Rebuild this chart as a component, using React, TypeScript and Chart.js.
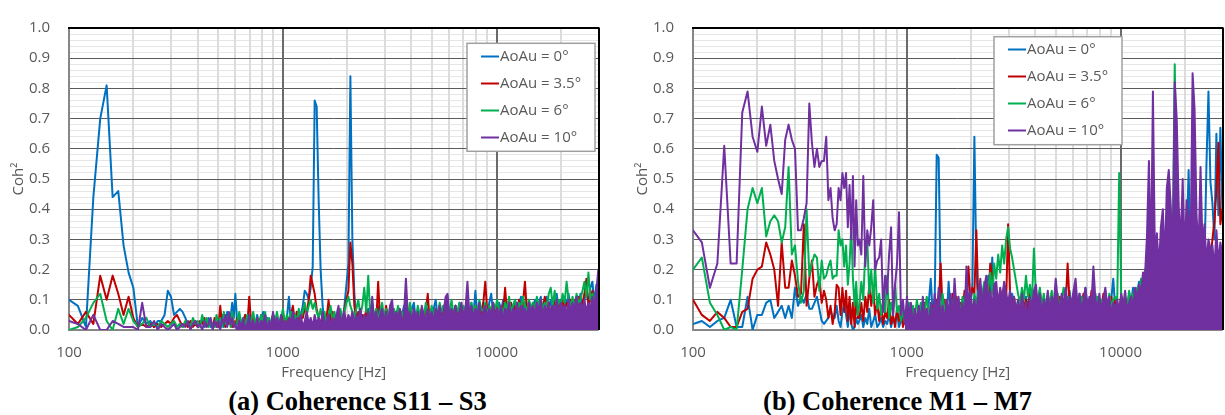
import React, { useEffect, useRef } from "react";
import { Chart, registerables } from "chart.js";

Chart.register(...registerables);

const FONT = '"Open Sans", "DejaVu Sans", sans-serif';
const TEXT = "#595959";

// frequency bins [Hz]
const FREQ_LO = [
  100, 110, 120, 130, 140, 150, 160, 170, 180, 190,
  200, 210, 220, 230, 240, 250, 260, 270, 280, 290,
  300, 310, 320, 330, 340, 350, 360, 370, 380, 390,
  400, 410, 420, 430, 440, 450, 460, 470, 480, 490,
  500, 510, 520, 530, 540, 550, 560, 570, 580, 590,
];
// log-spaced bins from 600 Hz to 30 kHz (184 bins)
const FREQ_HI = Array.from({ length: 184 }, (_, k) => 600 * Math.pow(10, k * 0.00928));

const X_GRID = [100, 200, 300, 400, 500, 600, 700, 800, 900, 1000, 2000, 3000, 4000, 5000, 6000, 7000, 8000, 9000, 10000, 20000, 30000];
const X_LABEL_VALUES = [100, 1000, 10000];
const X_LABELS = ["100", "1000", "10000"];
const Y_LABELS = ["0.0", "0.1", "0.2", "0.3", "0.4", "0.5", "0.6", "0.7", "0.8", "0.9", "1.0"];

const SERIES_NAMES = ["AoAu = 0°", "AoAu = 3.5°", "AoAu = 6°", "AoAu = 10°"];
const COLORS = ["#0070C0", "#C00000", "#00B050", "#7030A0"];

// ---------- Panel (a): Coherence S11 – S3 ----------
const A_BLUE_LO = [
  .10,.08,.01,.44,.70,.81,.44,.46,.28,.19,
  .14,.01,.04,.02,.03,.01,.03,.03,.05,.13,
  .11,.05,.06,.07,.06,.04,.02,.01,.02,.03,
  .01,.02,.03,.01,.02,.04,.01,.02,.03,.01,
  .03,.02,.05,.01,.03,.06,.02,.04,.09,.04,
];
const A_RED_LO = [
  .05,.02,.06,.02,.18,.10,.18,.12,.05,.11,
  .04,.01,.02,.01,.02,.01,.02,.01,.02,.03,
  .02,.04,.05,.03,.01,.02,.01,.03,.01,.02,
  .01,.03,.02,.04,.01,.02,.03,.01,.04,.02,
  .01,.08,.02,.05,.01,.03,.02,.04,.01,.03,
];
const A_GREEN_LO = [
  .00,.01,.04,.09,.12,.03,.00,.07,.02,.07,
  .03,.01,.02,.04,.01,.02,.01,.03,.02,.01,
  .02,.03,.01,.02,.01,.03,.02,.01,.04,.02,
  .03,.01,.05,.02,.04,.01,.03,.02,.01,.05,
  .02,.04,.01,.06,.02,.03,.05,.01,.06,.02,
];
const A_PURPLE_LO = [
  .03,.02,.00,.05,.00,.00,.03,.02,.01,.01,
  .01,.00,.09,.01,.01,.03,.00,.02,.01,.00,
  .01,.02,.00,.01,.02,.01,.03,.00,.02,.03,
  .01,.02,.00,.03,.01,.02,.04,.00,.03,.01,
  .03,.00,.04,.02,.05,.01,.06,.02,.04,.01,
];
const A_BLUE_HI = [
  .12,.02,.04,.01,.03,.05,.01,.03,.01,.04,
  .01,.05,.02,.03,.06,.01,.04,.02,.03,.05,
  .01,.04,.02,.03,.06,.01,.04,.11,.02,.05,
  .02,.06,.03,.05,.08,.13,.12,.10,.14,.21,
  .76,.74,.43,.20,.08,.02,.05,.01,.04,.06,
  .02,.05,.01,.06,.03,.08,.15,.22,.84,.30,
  .12,.04,.02,.06,.01,.05,.03,.07,.02,.06,
  .01,.05,.08,.02,.06,.03,.07,.02,.05,.01,
  .06,.03,.07,.02,.05,.08,.03,.06,.02,.07,
  .09,.03,.06,.02,.07,.04,.08,.03,.06,.02,
  .07,.10,.04,.07,.03,.08,.05,.09,.04,.07,
  .03,.08,.05,.09,.04,.07,.03,.08,.05,.09,
  .04,.13,.05,.08,.04,.09,.06,.05,.09,.12,
  .05,.08,.04,.09,.06,.10,.05,.08,.04,.09,
  .06,.10,.05,.08,.11,.06,.09,.05,.10,.07,
  .06,.10,.05,.09,.11,.06,.09,.11,.07,.10,
  .06,.09,.12,.07,.10,.06,.11,.08,.12,.07,
  .10,.06,.11,.08,.12,.07,.10,.13,.08,.14,
  .16,.09,.15,.12,
];
const A_RED_HI = [
  .02,.04,.01,.03,.02,.05,.01,.11,.02,.04,
  .01,.03,.02,.05,.01,.04,.02,.03,.01,.05,
  .02,.04,.01,.03,.05,.02,.04,.01,.05,.08,
  .03,.06,.02,.05,.04,.07,.06,.10,.18,.15,
  .12,.07,.04,.02,.05,.01,.04,.10,.03,.06,
  .02,.05,.03,.06,.02,.07,.10,.13,.29,.22,
  .08,.03,.06,.02,.05,.03,.07,.02,.06,.03,
  .05,.02,.16,.03,.06,.02,.08,.04,.06,.02,
  .05,.03,.07,.02,.06,.04,.05,.02,.07,.03,
  .06,.02,.05,.03,.07,.04,.06,.12,.03,.06,
  .04,.07,.03,.06,.04,.08,.03,.07,.05,.06,
  .03,.08,.05,.06,.04,.07,.03,.09,.05,.07,
  .04,.08,.05,.07,.04,.09,.16,.06,.08,.05,
  .07,.04,.09,.05,.08,.06,.14,.05,.07,.09,
  .05,.08,.06,.10,.05,.09,.16,.06,.08,.05,
  .09,.06,.10,.05,.08,.07,.11,.06,.09,.05,
  .08,.10,.06,.09,.07,.11,.06,.09,.08,.10,
  .07,.10,.08,.11,.06,.09,.12,.17,.08,.10,
  .13,.07,.11,.14,
];
const A_GREEN_HI = [
  .01,.03,.06,.02,.04,.01,.05,.02,.03,.06,
  .02,.04,.01,.05,.03,.06,.02,.04,.01,.05,
  .03,.06,.02,.04,.07,.02,.05,.03,.06,.02,
  .05,.03,.07,.04,.06,.09,.05,.08,.10,.07,
  .09,.06,.04,.07,.03,.06,.02,.05,.08,.03,
  .06,.02,.05,.07,.03,.06,.09,.11,.08,.06,
  .04,.07,.10,.05,.08,.14,.06,.18,.05,.09,
  .04,.07,.03,.06,.09,.04,.07,.03,.08,.05,
  .07,.04,.08,.05,.06,.03,.07,.04,.09,.05,
  .06,.04,.08,.05,.07,.03,.09,.06,.05,.08,
  .04,.07,.05,.09,.06,.08,.04,.07,.06,.10,
  .05,.08,.06,.09,.04,.08,.06,.07,.05,.09,
  .06,.08,.05,.10,.07,.06,.09,.05,.08,.06,
  .09,.07,.10,.06,.08,.05,.09,.07,.11,.06,
  .08,.10,.06,.09,.07,.11,.08,.06,.10,.07,
  .09,.06,.11,.08,.10,.07,.09,.06,.12,.14,
  .08,.13,.07,.10,.08,.12,.09,.16,.10,.08,
  .11,.07,.12,.09,.10,.13,.16,.11,.19,.10,
  .12,.09,.13,.10,
];
const A_PURPLE_HI = [
  .02,.00,.03,.01,.04,.00,.02,.05,.01,.03,
  .00,.04,.01,.03,.02,.05,.00,.03,.01,.06,
  .02,.04,.01,.05,.02,.03,.01,.04,.02,.06,
  .01,.04,.02,.05,.01,.03,.06,.02,.04,.01,
  .05,.02,.04,.01,.06,.02,.03,.05,.01,.04,
  .02,.05,.08,.02,.04,.06,.02,.05,.03,.06,
  .02,.05,.03,.07,.02,.05,.03,.06,.02,.11,
  .03,.06,.02,.05,.07,.03,.06,.02,.08,.10,
  .03,.06,.04,.07,.02,.05,.17,.04,.06,.03,
  .07,.04,.06,.02,.08,.05,.03,.07,.04,.06,
  .03,.07,.05,.08,.03,.06,.11,.12,.04,.07,
  .05,.08,.03,.06,.09,.04,.07,.16,.05,.08,
  .04,.07,.05,.09,.03,.06,.08,.04,.07,.05,
  .09,.04,.07,.05,.08,.03,.07,.05,.09,.04,
  .07,.05,.09,.04,.08,.06,.07,.04,.09,.06,
  .08,.05,.09,.06,.10,.04,.08,.06,.09,.05,
  .08,.06,.10,.05,.09,.07,.08,.05,.10,.06,
  .09,.07,.11,.05,.09,.07,.10,.06,.09,.07,
  .11,.08,.13,.20,
];

// ---------- Panel (b): Coherence M1 – M7 ----------
const B_BLUE_LO = [
  .02,.03,.01,.03,.04,.10,.01,.01,.11,.00,
  .05,.05,.09,.10,.04,.06,.08,.04,.08,.04,
  .14,.08,.11,.09,.12,.07,.07,.09,.11,.07,
  .03,.02,.03,.04,.07,.04,.04,.08,.03,.01,
  .06,.09,.05,.01,.07,.02,.00,.01,.04,.02,
];
const B_RED_LO = [
  .10,.05,.03,.06,.04,.01,.01,.06,.07,.17,
  .20,.21,.29,.25,.20,.08,.29,.14,.14,.23,
  .18,.11,.12,.35,.08,.17,.23,.11,.15,.17,
  .09,.13,.10,.04,.08,.02,.06,.15,.14,.05,
  .14,.06,.13,.03,.11,.02,.09,.01,.12,.04,
];
const B_GREEN_LO = [
  .20,.24,.09,.05,.00,.01,.00,.20,.40,.47,
  .42,.47,.31,.36,.38,.36,.29,.34,.54,.25,
  .28,.16,.09,.13,.40,.18,.22,.25,.24,.13,
  .23,.17,.18,.21,.23,.17,.18,.18,.33,.28,
  .30,.21,.28,.15,.22,.34,.17,.08,.16,.05,
];
const B_PURPLE_LO = [
  .33,.29,.14,.22,.61,.22,.22,.72,.79,.64,
  .59,.74,.61,.68,.56,.50,.45,.63,.68,.63,
  .60,.33,.33,.37,.42,.75,.62,.54,.60,.54,
  .56,.56,.64,.43,.47,.37,.33,.35,.47,.43,
  .52,.47,.52,.34,.48,.30,.51,.21,.43,.28,
];
const B_BLUE_HI = [
  .03,.05,.01,.04,.02,.07,.01,.03,.05,.01,
  .02,.04,.01,.03,.02,.05,.01,.04,.02,.06,
  .01,.03,.05,.02,.08,.01,.04,.06,.02,.05,
  .03,.08,.04,.06,.02,.09,.17,.05,.10,.58,
  .57,.12,.05,.08,.03,.16,.06,.09,.04,.07,
  .03,.08,.05,.10,.06,.12,.08,.15,.64,.20,
  .07,.11,.06,.09,.05,.18,.08,.24,.10,.13,
  .06,.11,.08,.14,.07,.10,.05,.12,.08,.06,
  .10,.05,.09,.04,.11,.07,.13,.06,.09,.05,
  .08,.11,.06,.09,.05,.12,.07,.10,.05,.08,
  .11,.06,.09,.04,.10,.07,.13,.06,.09,.05,
  .08,.12,.06,.09,.14,.07,.10,.05,.08,.12,
  .06,.09,.05,.11,.07,.08,.05,.10,.17,.07,
  .09,.05,.11,.07,.10,.06,.12,.09,.14,.08,
  .12,.16,.10,.18,.13,.22,.15,.19,.12,.25,
  .17,.22,.14,.28,.19,.24,.16,.30,.20,.26,
  .18,.29,.22,.24,.21,.30,.53,.25,.33,.22,
  .29,.24,.31,.20,.23,.55,.79,.49,.42,.30,
  .65,.38,.67,.40,
];
const B_RED_HI = [
  .04,.09,.03,.11,.06,.15,.08,.14,.05,.09,
  .03,.08,.02,.06,.04,.10,.02,.05,.01,.07,
  .03,.06,.01,.04,.07,.02,.05,.01,.06,.03,
  .07,.02,.05,.09,.03,.06,.04,.08,.05,.10,
  .07,.22,.06,.10,.04,.08,.05,.12,.07,.11,
  .06,.09,.05,.13,.08,.21,.10,.14,.12,.33,
  .09,.13,.07,.11,.14,.10,.22,.18,.09,.12,
  .08,.13,.10,.15,.09,.35,.12,.08,.11,.06,
  .09,.05,.12,.07,.10,.05,.13,.08,.11,.06,
  .09,.13,.07,.10,.05,.11,.08,.12,.06,.09,
  .07,.11,.06,.10,.08,.22,.09,.07,.12,.06,
  .10,.05,.09,.12,.07,.10,.06,.13,.08,.11,
  .06,.10,.07,.12,.05,.09,.08,.11,.07,.10,
  .08,.06,.11,.07,.10,.05,.12,.08,.10,.13,
  .09,.14,.11,.16,.12,.19,.14,.17,.23,.15,
  .20,.16,.24,.18,.21,.26,.19,.23,.17,.25,
  .21,.27,.18,.24,.20,.28,.22,.26,.19,.30,
  .24,.21,.28,.19,.25,.22,.27,.23,.30,.36,
  .46,.62,.35,.40,
];
const B_GREEN_HI = [
  .08,.16,.10,.26,.30,.12,.20,.09,.21,.07,
  .12,.05,.10,.06,.18,.04,.09,.05,.15,.06,
  .08,.03,.07,.02,.06,.09,.03,.08,.04,.10,
  .05,.09,.03,.07,.11,.04,.08,.05,.10,.06,
  .09,.04,.12,.06,.08,.05,.10,.07,.13,.05,
  .09,.06,.11,.07,.14,.08,.10,.06,.12,.09,
  .13,.08,.12,.16,.10,.14,.19,.12,.22,.17,
  .25,.19,.28,.22,.30,.34,.27,.24,.20,.16,
  .12,.09,.14,.10,.18,.11,.15,.09,.27,.12,
  .10,.14,.08,.12,.07,.11,.09,.13,.08,.10,
  .12,.07,.10,.14,.08,.11,.06,.09,.12,.07,
  .10,.06,.11,.08,.13,.07,.10,.09,.12,.08,
  .11,.07,.10,.09,.13,.06,.12,.08,.10,.11,
  .09,.52,.12,.08,.11,.07,.13,.09,.12,.10,
  .14,.11,.17,.13,.20,.15,.24,.17,.21,.18,
  .23,.19,.26,.21,.28,.22,.45,.25,.30,.88,
  .46,.27,.24,.29,.22,.31,.26,.23,.28,.21,
  .25,.20,.27,.22,.24,.19,.26,.21,.23,.18,
  .20,.15,.22,.18,
];
const B_PURPLE_HI = [
  .30,.25,.51,.21,.33,.28,.34,.43,.20,.23,
  .24,.30,.06,.18,.12,.25,.34,.05,.15,.22,
  .39,.05,.10,.02,.11,.04,.09,.01,.07,.03,
  .08,.02,.11,.04,.07,.01,.09,.03,.12,.05,
  .14,.04,.08,.02,.10,.05,.12,.03,.17,.06,
  .11,.04,.09,.03,.21,.07,.13,.05,.10,.06,
  .12,.17,.08,.14,.18,.09,.13,.07,.15,.16,
  .08,.14,.10,.16,.12,.09,.13,.07,.11,.05,
  .10,.04,.12,.06,.09,.03,.11,.07,.13,.15,
  .08,.12,.05,.10,.07,.13,.06,.11,.08,.17,
  .10,.06,.12,.08,.14,.07,.11,.09,.13,.17,
  .08,.12,.06,.10,.14,.07,.11,.09,.21,.10,
  .07,.12,.06,.10,.14,.08,.11,.05,.09,.07,
  .10,.06,.12,.08,.13,.06,.09,.11,.07,.14,
  .10,.15,.12,.19,.18,.31,.56,.20,.79,.24,
  .32,.20,.34,.40,.22,.47,.53,.41,.24,.82,
  .70,.41,.29,.50,.25,.43,.38,.27,.85,.73,
  .38,.26,.54,.28,.35,.22,.30,.27,.28,.20,
  .33,.22,.29,.25,
];

const PANEL_A: [number[], number[]][] = [
  [A_BLUE_LO, A_BLUE_HI], [A_RED_LO, A_RED_HI], [A_GREEN_LO, A_GREEN_HI], [A_PURPLE_LO, A_PURPLE_HI],
];
const PANEL_B: [number[], number[]][] = [
  [B_BLUE_LO, B_BLUE_HI], [B_RED_LO, B_RED_HI], [B_GREEN_LO, B_GREEN_HI], [B_PURPLE_LO, B_PURPLE_HI],
];

const GRID_MAJOR = "#5a5a5a";
const GRID_MAJOR_V = "#6a6a6a";
const GRID_MINOR_H = "#e6e6e6";
const GRID_MINOR_V = "#dcdcdc";
const AXIS_GRAY = "#868686";

function hLine(ctx: any, y: number, x1: number, x2: number, color: string, w: number) {
  const yy = w % 2 === 1 ? Math.round(y - 0.5) + 0.5 : Math.round(y);
  ctx.strokeStyle = color;
  ctx.lineWidth = w;
  ctx.beginPath();
  ctx.moveTo(x1, yy);
  ctx.lineTo(x2, yy);
  ctx.stroke();
}
function vLine(ctx: any, x: number, y1: number, y2: number, color: string, w: number) {
  const xx = w % 2 === 1 ? Math.round(x - 0.5) + 0.5 : Math.round(x);
  ctx.strokeStyle = color;
  ctx.lineWidth = w;
  ctx.beginPath();
  ctx.moveTo(xx, y1);
  ctx.lineTo(xx, y2);
  ctx.stroke();
}

// gridlines drawn through the chart's own scales: minor under major
const excelGrid = {
  id: "excelGrid",
  beforeDatasetsDraw(chart: any) {
    const { ctx, chartArea } = chart;
    const xs = chart.scales.x;
    const ys = chart.scales.y;
    const { left, right, top, bottom } = chartArea;
    ctx.save();
    for (let i = 1; i < 50; i++) {
      if (i % 5 === 0) continue;
      hLine(ctx, ys.getPixelForValue(i / 50), left, right, GRID_MINOR_H, 1);
    }
    X_GRID.forEach((v) => {
      if (v === 100 || v === 30000 || X_LABEL_VALUES.includes(v)) return;
      vLine(ctx, xs.getPixelForValue(v), top, bottom, GRID_MINOR_V, 2);
    });
    for (let i = 1; i < Y_LABELS.length - 1; i++) {
      hLine(ctx, ys.getPixelForValue(i / 10), left, right, GRID_MAJOR, 1);
    }
    [1000, 10000].forEach((v) => vLine(ctx, xs.getPixelForValue(v), top, bottom, GRID_MAJOR_V, 2));
    vLine(ctx, xs.getPixelForValue(100), top, bottom + 1, AXIS_GRAY, 2);
    hLine(ctx, ys.getPixelForValue(0), left, right, AXIS_GRAY, 2);
    ctx.restore();
  },
  afterDatasetsDraw(chart: any) {
    const { ctx, chartArea } = chart;
    const { left, right, top, bottom } = chartArea;
    ctx.save();
    hLine(ctx, top, left - 1, right + 1, "#000000", 2);
    vLine(ctx, right, top, bottom, "#000000", 2);
    ctx.restore();
  },
};

const boxLegend = {
  id: "boxLegend",
  afterDraw(chart: any, _args: any, opts: any) {
    const { ctx, chartArea } = chart;
    const x0 = chartArea.left + opts.dx;
    const y0 = chartArea.top + opts.dy;
    ctx.save();
    ctx.fillStyle = "#ffffff";
    ctx.fillRect(x0, y0, 128, 108);
    ctx.strokeStyle = "#a0a0a0";
    ctx.lineWidth = 1.5;
    ctx.strokeRect(x0, y0, 128, 108);
    ctx.font = `15px ${FONT}`;
    ctx.textBaseline = "middle";
    ctx.textAlign = "left";
    SERIES_NAMES.forEach((name, i) => {
      const y = Math.round(y0 + 12.3 + 27 * i) + 0.5;
      ctx.strokeStyle = COLORS[i];
      ctx.lineWidth = 2;
      ctx.beginPath();
      ctx.moveTo(x0 + 14, y);
      ctx.lineTo(x0 + 32, y);
      ctx.stroke();
      ctx.fillStyle = TEXT;
      ctx.fillText(name, x0 + 33, y);
    });
    ctx.restore();
  },
};

function buildDatasets(series: [number[], number[]][], denseFrom: number) {
  const ds: any[] = [];
  series.forEach(([lo, hi], s) => {
    const all = [
      ...lo.map((v, i) => ({ x: FREQ_LO[i], y: v })),
      ...hi.map((v, k) => ({ x: FREQ_HI[k], y: v })),
    ];
    if (s === 3) {
      // the top (10°) trace is so dense above ~1 kHz that it renders as a solid band
      ds.push({
        label: SERIES_NAMES[s] + " (dense)",
        data: all.filter((p) => p.x >= denseFrom),
        borderWidth: 0,
        borderColor: COLORS[s],
        backgroundColor: COLORS[s],
        fill: "origin",
        pointRadius: 0,
        order: 2,
      });
    }
    ds.push({
      label: SERIES_NAMES[s],
      data: all,
      borderWidth: 2,
      borderColor: COLORS[s],
      backgroundColor: COLORS[s],
      fill: false,
      pointRadius: 0,
      borderJoinStyle: "round",
      borderCapStyle: "round",
      order: s === 3 ? 1 : 8 - 2 * s,
    });
  });
  return ds;
}

function makeConfig(series: [number[], number[]][], legend: { dx: number; dy: number }, denseFrom: number): any {
  return {
    type: "line",
    data: { datasets: buildDatasets(series, denseFrom) },
    plugins: [excelGrid, boxLegend],
    options: {
      animation: false,
      responsive: false,
      maintainAspectRatio: false,
      devicePixelRatio: 1,
      events: [],
      layout: { padding: { left: 0, top: 17, right: 9, bottom: 0 } },
      plugins: {
        legend: { display: false },
        tooltip: { enabled: false },
        boxLegend: legend,
      },
      scales: {
        x: {
          type: "logarithmic",
          min: 100,
          max: 30000,
          afterBuildTicks: (scale: any) => {
            scale.ticks = X_GRID.map((v) => ({ value: v }));
          },
          afterFit: (scale: any) => {
            scale.height = 55;
          },
          border: { display: false },
          grid: { display: false, drawTicks: false },
          ticks: {
            autoSkip: false,
            maxRotation: 0,
            minRotation: 0,
            padding: 13.5,
            color: TEXT,
            font: { family: FONT, size: 15 },
            callback: (value: any) => {
              const i = X_LABEL_VALUES.indexOf(Number(value));
              return i >= 0 ? X_LABELS[i] : "";
            },
          },
          title: {
            display: true,
            text: "Frequency [Hz]",
            color: TEXT,
            font: { family: FONT, size: 15 },
            padding: { top: 0, bottom: 3.5 },
          },
        },
        y: {
          type: "linear",
          position: "left",
          min: 0,
          max: 1,
          afterBuildTicks: (scale: any) => {
            scale.ticks = Y_LABELS.map((_, i) => ({ value: i / 10 }));
          },
          afterFit: (scale: any) => {
            scale.width = 69;
          },
          border: { display: false },
          grid: { display: false, drawTicks: false },
          ticks: {
            autoSkip: false,
            padding: 19,
            color: TEXT,
            font: { family: FONT, size: 15 },
            callback: (_v: any, i: number) => Y_LABELS[i],
          },
          title: {
            display: true,
            text: "Coh²",
            color: TEXT,
            font: { family: FONT, size: 15 },
            padding: { top: 10, bottom: 0 },
          },
        },
      },
    },
  };
}

function Panel(props: { series: [number[], number[]][]; legend: { dx: number; dy: number }; left: number; denseFrom: number }) {
  const ref = useRef<HTMLCanvasElement | null>(null);
  useEffect(() => {
    if (!ref.current) return;
    const chart = new Chart(ref.current, makeConfig(props.series, props.legend, props.denseFrom));
    return () => chart.destroy();
  }, []);
  return (
    <canvas
      ref={ref}
      width={612}
      height={385}
      style={{ position: "absolute", left: props.left, top: 0, width: 612, height: 385 }}
    />
  );
}

const captionStyle = (center: number): React.CSSProperties => ({
  position: "absolute",
  left: center - 250,
  width: 500,
  top: 388.3,
  textAlign: "center",
  fontFamily: '"Liberation Serif", "Times New Roman", serif',
  fontWeight: "bold",
  fontSize: 26.5,
  lineHeight: "26.5px",
  color: "#000",
  whiteSpace: "nowrap",
});

export default function App() {
  return (
    <div
      style={{
        position: "absolute",
        left: 0,
        top: 0,
        width: 1225,
        height: 415,
        overflow: "hidden",
        background: "#fff",
      }}
    >
      <Panel series={PANEL_A} legend={{ dx: 398, dy: 15.3 }} left={0} denseFrom={600} />
      <Panel series={PANEL_B} legend={{ dx: 301, dy: 8.7 }} left={624} denseFrom={975} />
      <div style={captionStyle(357.5)}>(a) Coherence S11 – S3</div>
      <div style={captionStyle(897.5)}>(b) Coherence M1 – M7</div>
    </div>
  );
}
